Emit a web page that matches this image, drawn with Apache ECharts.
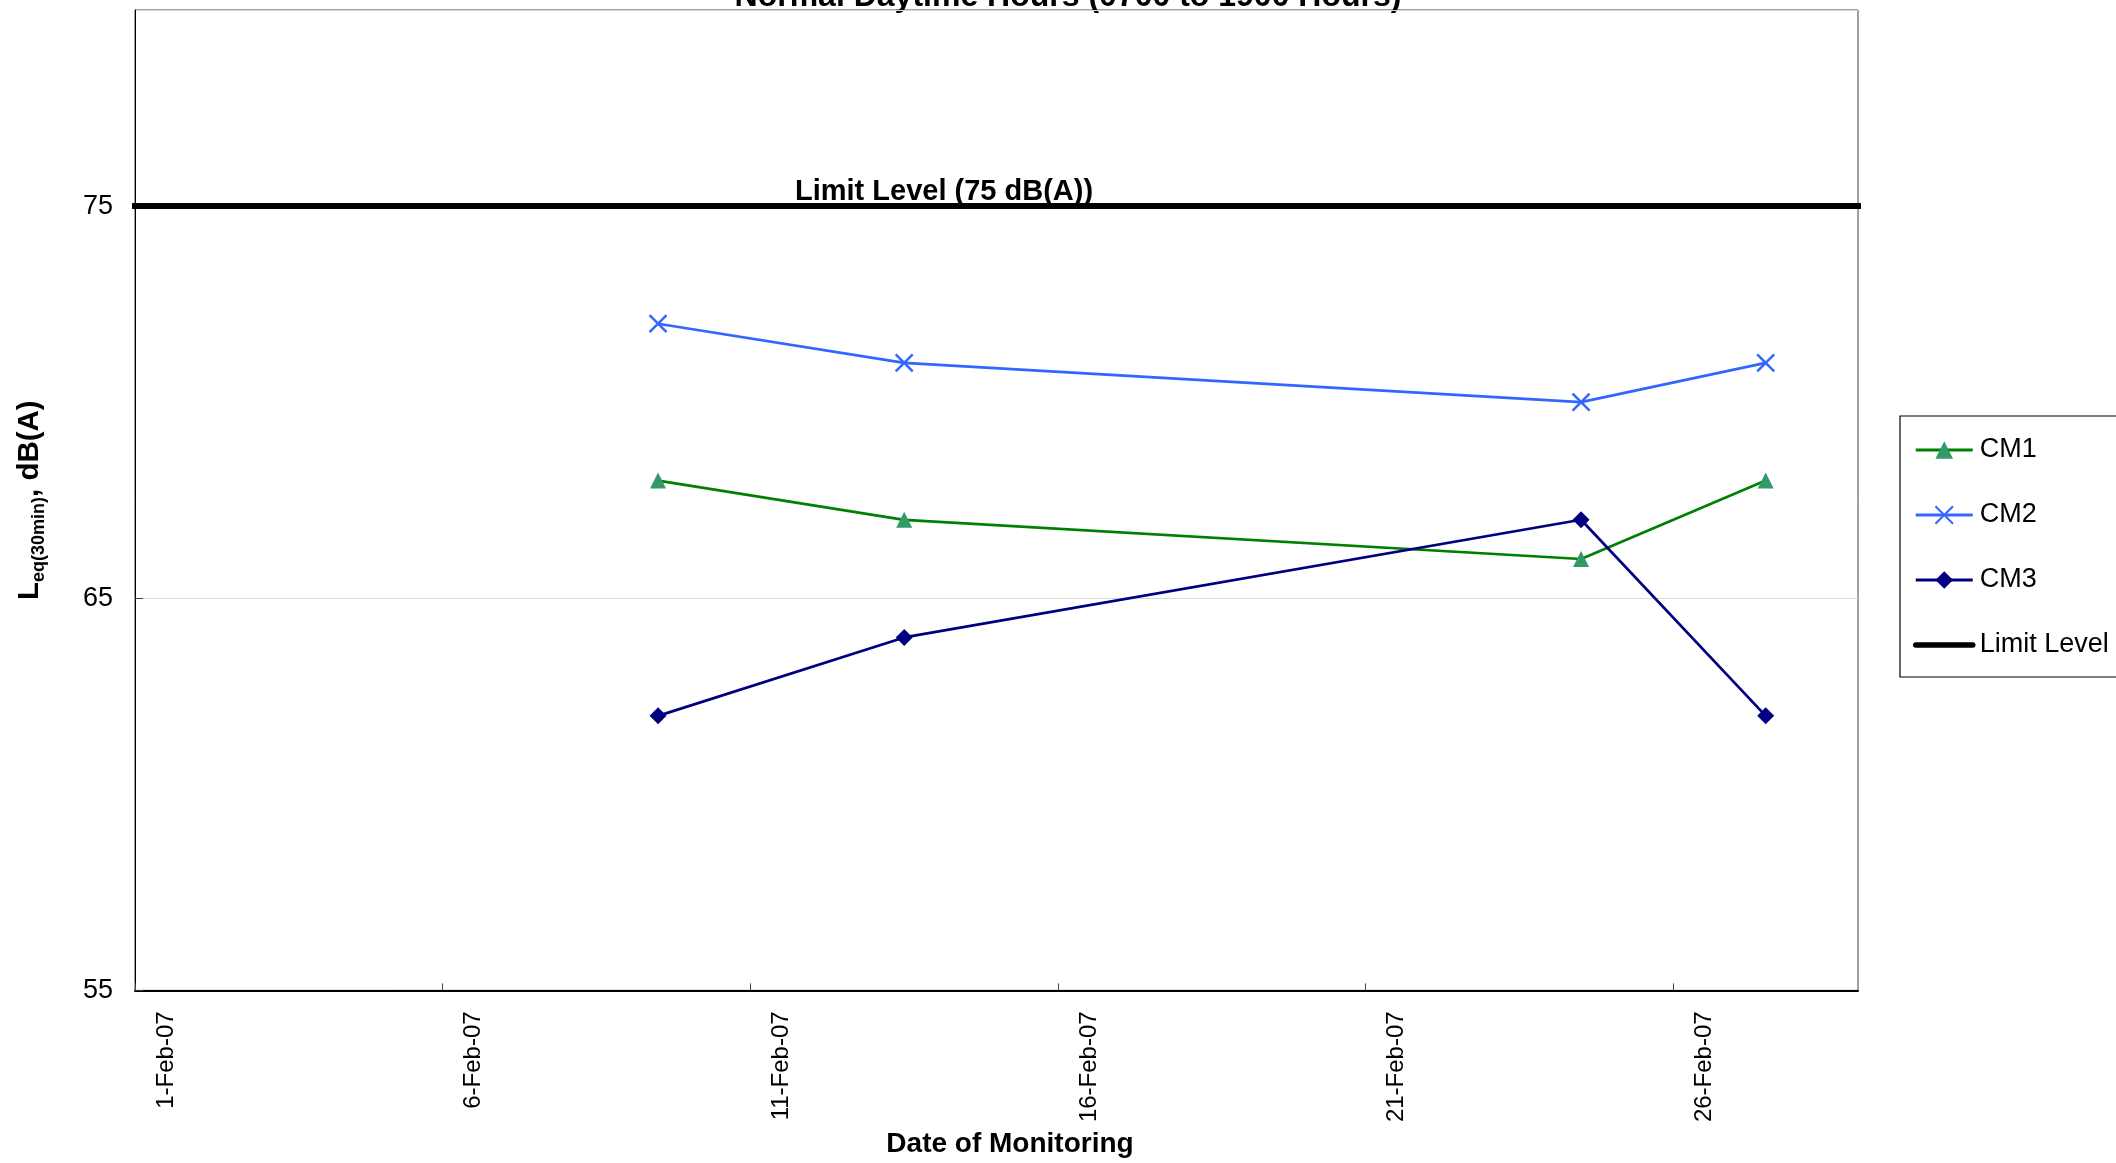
<!DOCTYPE html>
<html>
<head>
<meta charset="utf-8">
<script src="https://cdn.jsdelivr.net/npm/echarts@6/dist/echarts.min.js"></script>
<style>
html,body{margin:0;padding:0;background:#fff;}
#chart{width:2116px;height:1163px;}
</style>
</head>
<body>
<div id="chart"></div>
<script>
// ---- data ----
const axisStart = '2007-02-01T00:00';
const axisEnd = '2007-03-01T00:00';
const dates = ['2007-02-09T12:00', '2007-02-13T12:00', '2007-02-24T12:00', '2007-02-27T12:00'];
const cm1 = [68, 67, 66, 68];
const cm2 = [72, 71, 70, 71];
const cm3 = [62, 64, 67, 62];
const limitLevel = 75;
const xTickLabels = ['1-Feb-07', '6-Feb-07', '11-Feb-07', '16-Feb-07', '21-Feb-07', '26-Feb-07'];
const yTicks = [55, 65, 75];
const seriesNames = ['CM1', 'CM2', 'CM3', 'Limit Level'];

// ---- helpers ----
const DAY = 86400000;
const t0 = Date.parse(axisStart);
const dayOf = s => (Date.parse(s) - t0) / DAY;
const xMax = dayOf(axisEnd);
const pts = vals => dates.map((d, i) => [dayOf(d), vals[i]]);

const FONT = 'Liberation Sans, Arial, Helvetica, sans-serif';
const chart = echarts.init(document.getElementById('chart'), null, {renderer: 'canvas'});

const option = {
  animation: false,
  backgroundColor: '#ffffff',
  textStyle: {fontFamily: FONT},
  grid: {left: 135, right: 258, top: 10, bottom: 170, show: true, borderColor: '#404040', borderWidth: 1, backgroundColor: 'transparent'},
  legend: {
    orient: 'vertical', left: 1900, top: 416,
    data: seriesNames.map((n, i) => i === 3 ? {name: n, lineStyle: {width: 5.5, cap: 'round'}} : {name: n}),
    itemWidth: 57, itemHeight: 22, itemGap: 35,
    padding: [19, 80, 17, 13],
    borderColor: '#000', borderWidth: 1.2,
    lineStyle: {width: 3},
    textStyle: {fontSize: 27, color: '#000', fontFamily: FONT, lineHeight: 30, padding: [0, 0, 0, 2]}
  },
  xAxis: {
    type: 'value', min: 0, max: xMax, interval: 5,
    name: 'Date of Monitoring', nameLocation: 'middle', nameGap: 138,
    nameTextStyle: {fontSize: 28, fontWeight: 'bold', color: '#000', fontFamily: FONT, padding: [0, 0, 0, 27]},
    axisLine: {show: true, onZero: false, lineStyle: {color: '#000', width: 2}},
    axisTick: {show: true, inside: true, length: 7, lineStyle: {color: '#404040', width: 1}},
    splitLine: {show: false},
    axisLabel: {
      rotate: 90, margin: 21, fontSize: 24, color: '#000', fontFamily: FONT,
      verticalAlign: 'top', padding: [19, 0, 0, 0],
      showMaxLabel: false,
      formatter: v => { const i = v / 5; return Number.isInteger(i) && xTickLabels[i] ? xTickLabels[i] : ''; }
    }
  },
  yAxis: {
    type: 'value', min: yTicks[0], max: 80, interval: yTicks[1] - yTicks[0],
    name: '{b|L}{s|eq(30min)}{b|, dB(A)}',
    nameLocation: 'middle', nameRotate: 90, nameGap: 90,
    nameTextStyle: {
      rich: {
        b: {fontSize: 29.5, fontWeight: 'bold', color: '#000', fontFamily: FONT, lineHeight: 31, verticalAlign: 'bottom'},
        s: {fontSize: 18, fontWeight: 'bold', color: '#000', fontFamily: FONT, lineHeight: 19, verticalAlign: 'bottom', padding: [0, 0, -3, 0]}
      }
    },
    axisLine: {show: true, lineStyle: {color: '#000', width: 1}},
    axisTick: {show: true, inside: true, length: 8, lineStyle: {color: '#404040'}},
    splitLine: {show: true, lineStyle: {color: '#d9d9d9', width: 1}},
    axisLabel: {fontSize: 27, color: '#000', margin: 22, fontFamily: FONT, showMaxLabel: false}
  },
  graphic: [
    {type: 'text', x: 1068, y: 13, silent: true,
     style: {text: 'Normal Daytime Hours (0700 to 1900 Hours)', font: 'bold 32px ' + FONT, fill: '#000', align: 'center', verticalAlign: 'bottom'}},
    {type: 'text', x: 944, y: 206, silent: true, z: 10,
     style: {text: 'Limit Level (75 dB(A))', font: 'bold 29px ' + FONT, fill: '#000', align: 'center', verticalAlign: 'bottom'}}
  ],
  series: [
    {name: seriesNames[0], type: 'line', data: pts(cm1), symbol: 'triangle', symbolSize: 16,
     lineStyle: {color: '#008000', width: 2.7}, itemStyle: {color: '#339966'}, z: 3},
    {name: seriesNames[1], type: 'line', data: pts(cm2), symbol: 'path://M0,0L10,10M10,0L0,10', symbolSize: 17,
     lineStyle: {color: '#3366FF', width: 2.7}, itemStyle: {color: '#3366FF', borderColor: '#3366FF', borderWidth: 2.5}, z: 3},
    {name: seriesNames[2], type: 'line', data: pts(cm3), symbol: 'diamond', symbolSize: 17,
     lineStyle: {color: '#000080', width: 2.7}, itemStyle: {color: '#000080'}, z: 3},
    {name: seriesNames[3], type: 'line', data: [[0, limitLevel], [xMax, limitLevel]],
     symbol: 'circle', showSymbol: false, clip: false,
     lineStyle: {color: '#000', width: 6, cap: 'square'}, itemStyle: {color: 'rgba(0,0,0,0)', borderWidth: 0}, z: 4}
  ]
};
chart.setOption(option);
</script>
</body>
</html>
